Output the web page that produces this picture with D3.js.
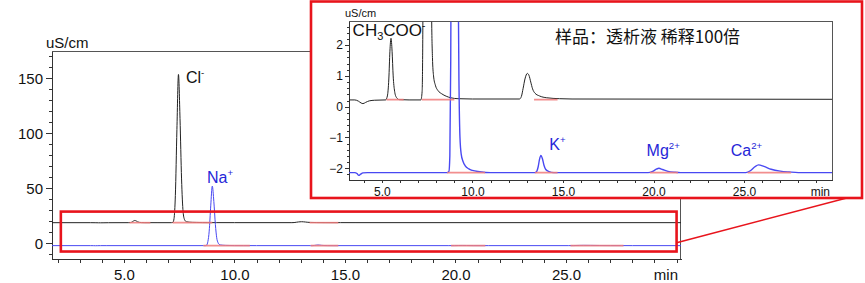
<!DOCTYPE html>
<html>
<head>
<meta charset="utf-8">
<title>透析液 离子色谱</title>
<script src="https://cdnjs.cloudflare.com/ajax/libs/d3/7.8.5/d3.min.js"></script>
<style>
    body { margin: 0; background: #fff; }
    svg { display: block; font-family: "Liberation Sans", Arial, sans-serif; }
    .axis path, .axis line { stroke: #333; shape-rendering: crispEdges; }
    .axis text { fill: #111; font-family: "Liberation Sans", Arial, sans-serif; }
    .frame { stroke: #555; fill: none; shape-rendering: crispEdges; }
</style>
</head>
<body>
<svg id="chart" width="865" height="283"></svg>
<script>
// chromatogram traces, [time (min), conductivity (uS/cm)]
var anionTrace = [
    [1.75, 0.22], [3.5, 0.22], [3.7, 0.18], [3.85, 0.12], [3.95, 0.1], [4.1, 0.14], [4.3, 0.19], [4.6, 0.21], [5.2, 0.22],
    [5.3, 0.35], [5.38, 0.9], [5.44, 1.8], [5.5, 2.22], [5.56, 1.8], [5.62, 1.0], [5.7, 0.5], [5.8, 0.3], [5.95, 0.23],
    [6.5, 0.22], [7.15, 0.22], [7.22, 0.5], [7.27, 4], [7.33, 25], [7.4, 85], [7.47, 135], [7.54, 95], [7.61, 40],
    [7.68, 10], [7.74, 3.2], [7.79, 1.6], [7.85, 1.0], [7.95, 0.7], [8.1, 0.52], [8.3, 0.42], [8.55, 0.34], [8.8, 0.29],
    [9.2, 0.26], [10, 0.25], [12.6, 0.25], [12.7, 0.33], [12.8, 0.6], [12.9, 0.9], [13.03, 1.08], [13.12, 1.02],
    [13.22, 0.8], [13.32, 0.58], [13.45, 0.44], [13.7, 0.35], [14.1, 0.29], [14.8, 0.26], [15.5, 0.25], [30.2, 0.24]
];
var cationTrace = [
    [1.75, -2.14], [3.5, -2.14], [3.62, -2.17], [3.72, -2.23], [3.82, -2.19], [3.95, -2.15], [4.2, -2.14],
    [8.6, -2.14], [8.7, -2.1], [8.75, -1.6], [8.8, 1.5], [8.86, 11], [8.93, 34], [9.0, 52], [9.07, 38], [9.14, 17],
    [9.2, 5], [9.26, 0.5], [9.31, -1.0], [9.38, -1.55], [9.48, -1.78], [9.6, -1.92], [9.8, -2.02], [10.0, -2.07],
    [10.4, -2.11], [11.0, -2.14], [13.45, -2.14], [13.55, -2.1], [13.63, -1.95], [13.7, -1.72], [13.78, -1.58],
    [13.86, -1.68], [13.95, -1.9], [14.05, -2.04], [14.2, -2.1], [14.5, -2.14], [19.7, -2.14], [19.95, -2.1],
    [20.15, -2.03], [20.3, -2.0], [20.5, -2.04], [20.8, -2.1], [21.2, -2.13], [21.5, -2.14], [25.1, -2.14],
    [25.35, -2.08], [25.6, -1.95], [25.8, -1.89], [26.1, -1.94], [26.5, -2.03], [27.0, -2.09], [27.5, -2.12],
    [28.0, -2.14], [30.2, -2.14]
];

// integration baselines (start, end in min)
var anionSegments = [[5.25, 6.2], [7.2, 9.0], [13.4, 14.7]];
var cationSegments = [[8.6, 10.7], [13.45, 14.7], [19.8, 21.35], [25.2, 27.6]];
var anionLevel = 0.23;
var cationLevel = -2.14;
var mainAnionOffset = 18.5;

var mainXMajor = [5, 10, 15, 20, 25];
var mainYMajor = [0, 50, 100, 150];
var insetXMajor = [5, 10, 15, 20, 25];
var insetYMajor = [-2, -1, 0, 1, 2];

var mainLabels = [
    { text: "Cl", sup: "-", t: 7.81, v: 145.7, color: "#111" },
    { text: "Na", sup: "+", t: 8.76, v: 54.8, color: "#2626d8" }
];
var insetLabels = [
    { text: "K", sup: "+", t: 14.24, v: -1.41 },
    { text: "Mg", sup: "2+", t: 19.62, v: -1.6 },
    { text: "Ca", sup: "2+", t: 24.27, v: -1.6 }
];
var zoomBox = { t0: 2.15, t1: 30.0, v0: -7.5, v1: 28.8 };
var sampleTitle = "样品：透析液 稀释100倍";

var svg = d3.select("#chart");
var red = "#e8141c";
var black = "#222";
var blue = "#4848f2";

// ---------- main chart ----------
var mx = d3.scaleLinear().domain([1.75, 30.2]).range([52, 681]);
var my = d3.scaleLinear().domain([-14.3, 174.8]).range([259, 51]);

svg.append("clipPath").attr("id", "clip-main")
    .append("rect").attr("x", 52).attr("y", 51).attr("width", 629).attr("height", 208);

svg.append("path").attr("class", "frame")
    .attr("d", "M" + mx.range()[0] + "," + my.range()[1] + "H680V" + my.range()[0]);

svg.append("g").attr("class", "axis")
    .attr("transform", "translate(0," + my.range()[0] + ")")
    .call(d3.axisBottom(mx).tickValues(d3.range(2, 31)).tickSize(4).tickSizeOuter(0).tickPadding(6)
        .tickFormat(function(d) { return mainXMajor.indexOf(d) >= 0 ? d3.format(".1f")(d) : ""; }))
    .selectAll("text").style("font-size", "15px");

svg.append("g").attr("class", "axis")
    .attr("transform", "translate(" + mx.range()[0] + ",0)")
    .call(d3.axisLeft(my).tickValues(d3.range(-10, 171, 10)).tickSize(3).tickSizeOuter(0).tickFormat(""));
svg.append("g").attr("class", "axis")
    .attr("transform", "translate(" + mx.range()[0] + ",0)")
    .call(d3.axisLeft(my).tickValues(mainYMajor).tickSize(6).tickSizeOuter(0).tickPadding(3))
    .selectAll("text").style("font-size", "15px");

svg.append("text").attr("x", 46).attr("y", 48).style("font-size", "15px").attr("fill", "#111").text("uS/cm");
svg.append("text").attr("x", 678).attr("y", 280).attr("text-anchor", "end")
    .style("font-size", "15px").attr("fill", "#111").text("min");

function traceLine(x, y, offset) {
    return d3.line()
        .x(function(d) { return x(d[0]); })
        .y(function(d) { return y(d[1] + offset); })
        .curve(d3.curveMonotoneX);
}

function drawTraces(g, x, y, offset, width) {
    g.append("path").datum(anionTrace)
        .attr("d", traceLine(x, y, offset))
        .attr("fill", "none").attr("stroke", black).attr("stroke-width", 1);
    g.append("path").datum(cationTrace)
        .attr("d", traceLine(x, y, 0))
        .attr("fill", "none").attr("stroke", blue).attr("stroke-width", width);
    g.selectAll(".seg-a").data(anionSegments).enter().append("line")
        .attr("x1", function(d) { return x(d[0]); })
        .attr("x2", function(d) { return x(d[1]); })
        .attr("y1", y(anionLevel + offset)).attr("y2", y(anionLevel + offset))
        .attr("stroke", "#f07a7a").attr("stroke-width", 1.6).attr("stroke-opacity", 0.85);
    g.selectAll(".seg-c").data(cationSegments).enter().append("line")
        .attr("x1", function(d) { return x(d[0]); })
        .attr("x2", function(d) { return x(d[1]); })
        .attr("y1", y(cationLevel)).attr("y2", y(cationLevel))
        .attr("stroke", "#f07a7a").attr("stroke-width", 1.8).attr("stroke-opacity", 0.85);
}

var mainPlot = svg.append("g").attr("clip-path", "url(#clip-main)");
drawTraces(mainPlot, mx, my, mainAnionOffset, 1);

function addLabel(g, d, x, y, size, color) {
    var t = g.append("text")
        .attr("x", x(d.t)).attr("y", y(d.v))
        .style("font-size", size + "px").attr("fill", color);
    t.append("tspan").text(d.text);
    t.append("tspan").attr("dy", -size * 0.42).style("font-size", (size * 0.6) + "px").text(d.sup);
}
mainLabels.forEach(function(d) { addLabel(svg, d, mx, my, 16, d.color); });

// zoom box and link to inset
svg.append("rect")
    .attr("x", mx(zoomBox.t0)).attr("y", my(zoomBox.v1))
    .attr("width", mx(zoomBox.t1) - mx(zoomBox.t0))
    .attr("height", my(zoomBox.v0) - my(zoomBox.v1))
    .attr("fill", "none").attr("stroke", red).attr("stroke-width", 2.6);

var inset = { x: 311, y: 1.5, w: 551, h: 196.5 };
svg.append("line")
    .attr("x1", mx(zoomBox.t1)).attr("y1", my(0.5))
    .attr("x2", inset.x + inset.w).attr("y2", 194)
    .attr("stroke", red).attr("stroke-width", 1.6);

// ---------- inset ----------
svg.append("rect")
    .attr("x", inset.x).attr("y", inset.y).attr("width", inset.w).attr("height", inset.h)
    .attr("fill", "#fff").attr("stroke", red).attr("stroke-width", 2.6);

var ix = d3.scaleLinear().domain([3.18, 29.86]).range([349, 832]);
var iy = d3.scaleLinear().domain([-2.38, 2.76]).range([180, 21.7]);

svg.append("clipPath").attr("id", "clip-inset")
    .append("rect").attr("x", 349).attr("y", 21.7).attr("width", 483).attr("height", 158.3);

svg.append("path").attr("class", "frame")
    .attr("d", "M" + ix.range()[0] + "," + iy.range()[1] + "H" + ix.range()[1] + "V" + iy.range()[0]);

svg.append("g").attr("class", "axis")
    .attr("transform", "translate(0," + iy.range()[0] + ")")
    .call(d3.axisBottom(ix).tickValues(d3.range(4, 30)).tickSize(3).tickSizeOuter(0).tickPadding(4)
        .tickFormat(function(d) { return insetXMajor.indexOf(d) >= 0 ? d3.format(".1f")(d) : ""; }))
    .selectAll("text").style("font-size", "12px");

svg.append("g").attr("class", "axis")
    .attr("transform", "translate(" + ix.range()[0] + ",0)")
    .call(d3.axisLeft(iy).tickValues(d3.range(-2.2, 2.75, 0.2)).tickSize(2).tickSizeOuter(0).tickFormat(""));
svg.append("g").attr("class", "axis")
    .attr("transform", "translate(" + ix.range()[0] + ",0)")
    .call(d3.axisLeft(iy).tickValues(insetYMajor).tickSize(4).tickSizeOuter(0).tickPadding(2)
        .tickFormat(d3.format("d")))
    .selectAll("text").style("font-size", "12px");

svg.append("text").attr("x", 345).attr("y", 17).style("font-size", "11px").attr("fill", "#111").text("uS/cm");
svg.append("text").attr("x", 830).attr("y", 196).attr("text-anchor", "end")
    .style("font-size", "12px").attr("fill", "#111").text("min");

var insetPlot = svg.append("g").attr("clip-path", "url(#clip-inset)");
drawTraces(insetPlot, ix, iy, 0, 1.4);

insetLabels.forEach(function(d) { addLabel(svg, d, ix, iy, 16, "#2626d8"); });

// acetate label with subscript
var ac = svg.append("text")
    .attr("x", ix(3.38)).attr("y", iy(2.3))
    .style("font-size", "17px").attr("fill", "#111");
ac.append("tspan").text("CH");
ac.append("tspan").attr("dy", 4).style("font-size", "11px").text("3");
ac.append("tspan").attr("dy", -4).text("COO");
ac.append("tspan").attr("dy", -7).style("font-size", "10px").text("-");

svg.append("text")
    .attr("x", 555).attr("y", 43)
    .style("font-family", "'Noto Sans CJK SC', sans-serif")
    .style("font-size", "17px").attr("fill", "#111")
    .text(sampleTitle);
</script>
</body>
</html>
